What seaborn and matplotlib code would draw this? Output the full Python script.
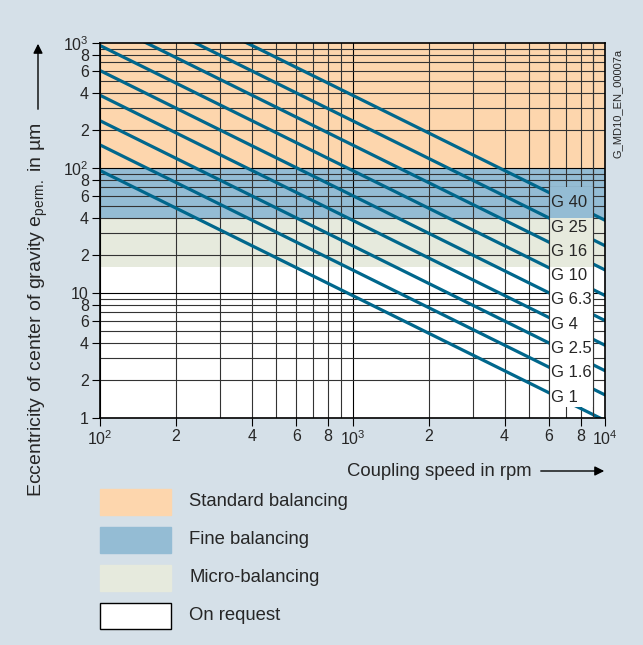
import numpy as np
import pandas as pd
import seaborn as sns
from matplotlib import pyplot as plt
from matplotlib.patches import Rectangle

# balancing grades and eccentricity (um) read at 100 rpm and 10^4 rpm
grades = ["G 1", "G 1.6", "G 2.5", "G 4", "G 6.3", "G 10", "G 16", "G 25", "G 40"]
ecc_at_100 = [95.5, 153, 239, 382, 602, 955, 1528, 2387, 3820]
ecc_at_10000 = [0.955, 1.53, 2.39, 3.82, 6.02, 9.55, 15.3, 23.9, 38.2]
# height of each grade label in the label column (um)
label_ecc = [1.47, 2.30, 3.60, 5.63, 8.80, 13.8, 21.5, 33.7, 52.7]

# balancing bands (um)
band_names = ["Standard balancing", "Fine balancing", "Micro-balancing", "On request"]
band_lo = [100, 40, 16, 1]
band_hi = [1000, 100, 40, 16]
band_colors = ["#fdd6ad", "#94bcd4", "#e6eadd", "#ffffff"]

x_ticks = [100, 200, 400, 600, 800, 1000, 2000, 4000, 6000, 8000, 10000]
x_labels = ["$10^2$", "2", "4", "6", "8", "$10^3$", "2", "4", "6", "8", "$10^4$"]
y_ticks = [1, 2, 4, 6, 8, 10, 20, 40, 60, 80, 100, 200, 400, 600, 800, 1000]
y_labels = ["1", "2", "4", "6", "8", "10", "2", "4", "6", "8", "$10^2$", "2", "4", "6", "8", "$10^3$"]

BG = "#d5e0e8"
LINE = "#00678c"

sns.set_style("ticks")
plt.rcParams['font.family'] = ['Liberation Sans', 'DejaVu Sans']
plt.rcParams['mathtext.default'] = 'regular'

fig = plt.figure(figsize=(6.43, 6.45), dpi=100, facecolor=BG)
ax = fig.add_axes([100/643, 1-418/645, 505/643, 375/645])

for lo, hi, c in zip(band_lo, band_hi, band_colors):
    ax.axhspan(lo, hi, color=c, lw=0, zorder=0)

# log grid
for dec in [100, 1000]:
    for k in range(1, 10):
        ax.axvline(dec*k, color="black" if k == 1 else "#333333", lw=0.8, zorder=1)
for dec in [1, 10, 100]:
    for k in range(1, 10):
        ax.axhline(dec*k, color="black" if k == 1 else "#333333", lw=0.8, zorder=1)

df = pd.DataFrame({
    "speed": [100]*len(grades) + [10000]*len(grades),
    "ecc": ecc_at_100 + ecc_at_10000,
    "grade": grades + grades,
})
sns.lineplot(data=df, x="speed", y="ecc", hue="grade", palette=[LINE]*len(grades),
             estimator=None, legend=False, lw=2.3, ax=ax, zorder=2)

ax.set_xscale("log")
ax.set_yscale("log")
ax.set_xlim(100, 10000)
ax.set_ylim(1, 1000)

# label column, covering grid and lines
box_top, box_bot = 70.5, 1.22
for lo, hi, c in zip(band_lo, band_hi, band_colors):
    lo2, hi2 = max(lo, box_bot), min(hi, box_top)
    if hi2 > lo2:
        ax.add_patch(Rectangle((6000, lo2), 3000, hi2-lo2, facecolor=c, lw=0, zorder=3))
for xv in [6000, 9000]:
    ax.axvline(xv, color="#333333", lw=0.8, zorder=4)
for g, e in zip(grades, label_ecc):
    ax.text(6120, e, g, fontsize=12, ha="left", va="center", zorder=5)

ax.set_xticks(x_ticks)
ax.set_xticklabels(x_labels)
ax.set_yticks(y_ticks)
ax.set_yticklabels(y_labels)
ax.minorticks_off()
ax.tick_params(axis="both", labelsize=11.5, length=6, width=0.8, color="black", pad=2)
ax.set_xlabel("")
ax.set_ylabel("")
for s in ax.spines.values():
    s.set_color("black")
    s.set_linewidth(1.2)

# axis titles with arrows
fig.text(532/643, 1-471/645, "Coupling speed in rpm", fontsize=13.3, ha="right", va="center")
fig.add_artist(plt.Annotation("", xy=(607/643, 1-471/645), xytext=(538/643, 1-471/645),
                              xycoords="figure fraction",
                              arrowprops=dict(arrowstyle="-|>", color="black", lw=1, mutation_scale=14)))
fig.text(38/643, 1-497/645, "Eccentricity of center of gravity e$_{perm.}$ in µm", fontsize=14,
         rotation=90, ha="center", va="bottom")
fig.add_artist(plt.Annotation("", xy=(38/643, 1-41/645), xytext=(38/643, 1-112/645),
                              xycoords="figure fraction",
                              arrowprops=dict(arrowstyle="-|>", color="black", lw=1, mutation_scale=14)))
fig.text(618/643, 1-103/645, "G_MD10_EN_00007a", fontsize=8, rotation=90, ha="center", va="center")

# legend
for i, (name, c) in enumerate(zip(band_names, band_colors)):
    top = 489 + i*38
    ec = "black" if c == "#ffffff" else c
    fig.add_artist(Rectangle((100/643, 1-(top+26)/645), 71/643, 26/645, facecolor=c,
                             edgecolor=ec, lw=1, transform=fig.transFigure))
    fig.text(189/643, 1-(top+13)/645, name, fontsize=13.3, ha="left", va="center")

fig.savefig("out.png", dpi=100, facecolor=BG)
